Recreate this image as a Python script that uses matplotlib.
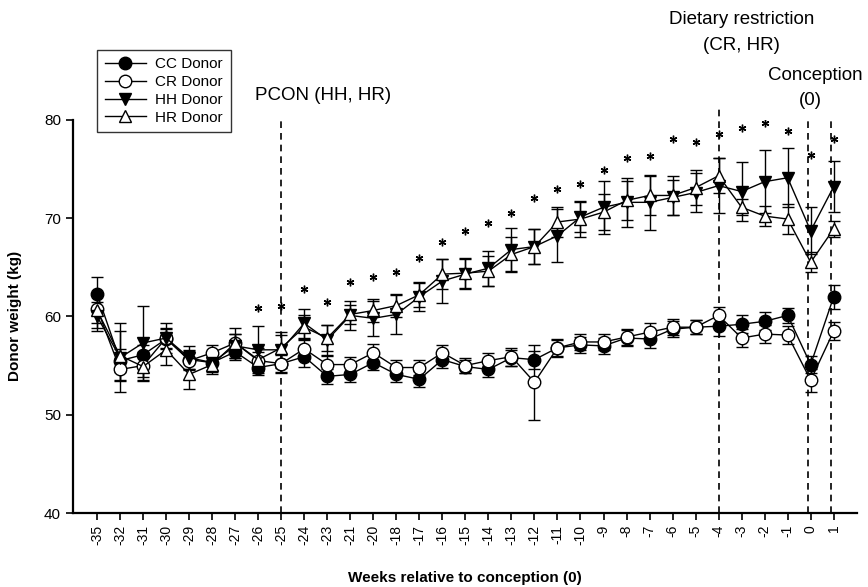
import numpy as np
import matplotlib
matplotlib.use("Agg")
import matplotlib.pyplot as plt

plt.rcParams["font.family"] = ["Liberation Sans", "DejaVu Sans"]

weeks = [-35, -32, -31, -30, -29, -28, -27, -26, -25, -24, -23, -21, -20, -18, -17, -16,
         -15, -14, -13, -12, -11, -10, -9, -8, -7, -6, -5, -4, -3, -2, -1, 0, 1]

cc = [62.3, 55.5, 56.1, 57.7, 55.6, 55.3, 56.4, 54.8, 55.2, 55.9, 53.9, 54.1, 55.3, 54.1, 53.6, 55.6,
      54.9, 54.6, 55.8, 55.6, 56.8, 57.1, 57.0, 57.8, 57.7, 58.7, 58.9, 59.0, 59.2, 59.5, 60.1, 55.1, 62.0]
cc_err = [1.7, 1.2, 1.0, 1.0, 1.0, 0.8, 0.8, 0.8, 0.9, 1.0, 0.8, 0.8, 0.8, 0.8, 0.8, 0.8,
          0.7, 0.8, 0.8, 0.9, 0.8, 0.8, 0.8, 0.8, 0.9, 0.8, 0.7, 1.0, 0.9, 0.9, 0.8, 0.9, 1.2]

cr = [60.8, 54.6, 55.0, 57.8, 55.5, 56.3, 57.3, 55.5, 55.2, 56.7, 55.1, 55.1, 56.3, 54.8, 54.8, 56.3,
      55.0, 55.5, 55.9, 53.3, 56.8, 57.4, 57.4, 57.9, 58.4, 58.9, 58.9, 60.1, 57.8, 58.2, 58.1, 53.5, 58.5]
cr_err = [1.5, 1.2, 1.2, 1.0, 1.0, 0.8, 0.9, 0.9, 1.0, 0.9, 0.9, 0.8, 0.9, 0.8, 0.8, 0.8,
          0.8, 0.8, 0.9, 3.8, 0.9, 0.8, 0.8, 0.8, 0.9, 0.8, 0.7, 0.9, 0.9, 0.9, 0.9, 1.2, 0.9]

hh = [60.0, 55.8, 57.3, 57.8, 55.8, 55.3, 57.0, 56.6, 56.6, 59.3, 57.6, 60.1, 59.8, 60.2, 62.0, 63.6,
      64.3, 64.9, 66.8, 67.1, 68.2, 70.1, 71.1, 71.6, 71.6, 72.1, 72.6, 73.3, 72.7, 73.7, 74.1, 68.7, 73.2]
hh_err = [1.5, 3.5, 3.8, 1.5, 1.2, 1.0, 1.2, 2.4, 1.8, 1.5, 1.5, 1.5, 1.8, 2.0, 1.5, 2.2,
          1.5, 1.8, 2.2, 1.8, 2.7, 1.5, 2.7, 2.5, 2.8, 1.8, 2.0, 2.8, 3.0, 3.2, 3.0, 2.4, 2.6]

hr = [60.6, 56.0, 54.9, 56.6, 54.1, 55.1, 57.3, 55.6, 56.8, 58.9, 57.8, 60.2, 60.6, 61.1, 62.2, 64.3,
      64.4, 64.6, 66.3, 67.1, 69.6, 69.9, 70.6, 71.8, 72.3, 72.3, 73.1, 74.3, 71.1, 70.2, 69.9, 65.5, 68.9]
hr_err = [1.8, 2.5, 1.5, 1.5, 1.5, 1.0, 1.5, 1.2, 1.3, 1.2, 1.3, 1.0, 1.2, 1.2, 1.2, 1.5,
          1.5, 1.5, 1.8, 1.8, 1.5, 1.8, 1.8, 2.0, 2.0, 2.0, 1.8, 1.8, 0.8, 1.0, 1.5, 1.0, 0.8]

# significance stars (week, height in kg)
sig_weeks = [-26, -25, -24, -23, -21, -20, -18, -17, -16, -15, -14, -13, -12, -11, -10, -9,
             -8, -7, -6, -5, -4, -3, -2, -1, 0, 1]
sig_y = [60.9, 61.1, 62.8, 61.5, 63.5, 64.0, 64.5, 65.9, 67.6, 68.7, 69.5, 70.5, 72.0, 73.0, 73.5, 74.9,
         76.1, 76.3, 78.0, 77.7, 78.6, 79.2, 79.7, 78.9, 76.4, 78.0]

x = np.arange(len(weeks))
pos = {w: i for i, w in enumerate(weeks)}

fig = plt.figure(figsize=(8.68, 5.87), dpi=100)
ax = fig.add_axes([0.084, 0.126, 0.903, 0.670])

series = [
    (cc, cc_err, "o", "black", "CC Donor"),
    (cr, cr_err, "o", "white", "CR Donor"),
    (hh, hh_err, "v", "black", "HH Donor"),
    (hr, hr_err, "^", "white", "HR Donor"),
]
handles, labels = [], []
for vals, err, mk, fc, lab in series:
    eb = ax.errorbar(x, vals, yerr=err, color="black", lw=1.0, elinewidth=1.0, capsize=4,
                     capthick=1.0, marker=mk, ms=9, mfc=fc, mec="black", mew=1.0)
    handles.append(eb[0])
    labels.append(lab)

ax.plot([pos[w] for w in sig_weeks], sig_y, ls="none", marker=(6, 2, 0), ms=5.5,
        mew=1.0, color="black")

# event lines
for w, top in [(-25, 1.005), (-4, 1.03), (0, 1.005), (1, 1.005)]:
    xx = pos[w] - (0.12 if w >= 0 else 0)
    ax.axvline(xx, ymin=0, ymax=top, color="black", ls=(0, (4, 3)), lw=1.2, clip_on=False)

fs = 13.5
ax.text(9.83, 82.46, "PCON (HH, HR)", ha="center", va="center", fontsize=fs, clip_on=False)
ax.text(28.0, 90.2, "Dietary restriction", ha="center", va="center", fontsize=fs, clip_on=False)
ax.text(28.0, 87.55, "(CR, HR)", ha="center", va="center", fontsize=fs, clip_on=False)
ax.text(31.2, 84.5, "Conception", ha="center", va="center", fontsize=fs, clip_on=False)
ax.text(31.0, 82.0, "(0)", ha="center", va="center", fontsize=fs, clip_on=False)

ax.set_xlim(-1.05, 33.0)
ax.set_ylim(40, 80)
ax.set_xticks(x)
ax.set_xticklabels([str(w) for w in weeks], rotation=90, fontsize=10)
ax.set_yticks([40, 50, 60, 70, 80])
ax.tick_params(axis="y", labelsize=11, length=5, width=1.2)
ax.tick_params(axis="x", length=5, width=1.2)
for s in ["top", "right"]:
    ax.spines[s].set_visible(False)
for s in ["left", "bottom"]:
    ax.spines[s].set_linewidth(1.6)

ax.set_xlabel("Weeks relative to conception (0)", fontsize=11, fontweight="bold", labelpad=19)
ax.set_ylabel("Donor weight (kg)", fontsize=11, fontweight="bold", labelpad=16)

leg = ax.legend(handles, labels, loc="upper left", bbox_to_anchor=(0.031, 1.178),
                borderaxespad=0, fontsize=11, frameon=True, fancybox=False, edgecolor="black",
                handlelength=2.7, borderpad=0.5, labelspacing=0.25, handletextpad=0.6)
leg.get_frame().set_linewidth(1.0)

plt.savefig("out.png", dpi=100)
